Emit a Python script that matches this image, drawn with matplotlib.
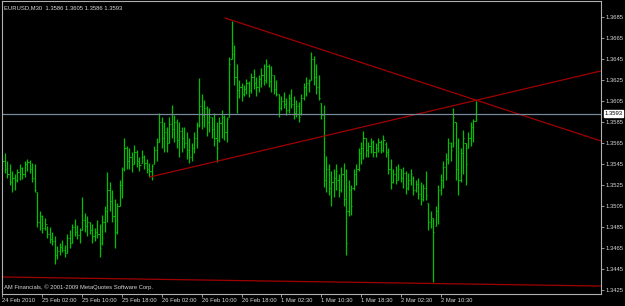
import matplotlib
matplotlib.use("Agg")
import matplotlib.pyplot as plt
import matplotlib.transforms as mtransforms

# EURUSD M30 bars (bar index 0 = first visible bar)
highs = [
    1.3553, 1.3555, 1.3548, 1.3545, 1.3538, 1.3535, 1.3540, 1.3545, 1.3542, 1.3548,
    1.3550, 1.3549, 1.3546, 1.3545, 1.3518, 1.3500, 1.3496, 1.3494, 1.3486, 1.3485,
    1.3480, 1.3476, 1.3467, 1.3470, 1.3473, 1.3468, 1.3478, 1.3482, 1.3488, 1.3493,
    1.3487, 1.3484, 1.3514, 1.3498, 1.3495, 1.3490, 1.3488, 1.3484, 1.3492, 1.3488,
    1.3496, 1.3505, 1.3537, 1.3528, 1.3520, 1.3512, 1.3508, 1.3530, 1.3542, 1.3570,
    1.3562, 1.3560, 1.3556, 1.3563, 1.3558, 1.3552, 1.3558, 1.3554, 1.3550, 1.3546,
    1.3545, 1.3562, 1.3570, 1.3594, 1.3590, 1.3585, 1.3580, 1.3590, 1.3601, 1.3592,
    1.3588, 1.3585, 1.3580, 1.3580, 1.3575, 1.3570, 1.3565, 1.3575, 1.3585, 1.3627,
    1.3612, 1.3606, 1.3600, 1.3598, 1.3590, 1.3594, 1.3585, 1.3590, 1.3596, 1.3592,
    1.3590, 1.3647, 1.3681, 1.3658, 1.3640, 1.3625, 1.3622, 1.3620, 1.3626, 1.3624,
    1.3632, 1.3635, 1.3628, 1.3630, 1.3636, 1.3640, 1.3645, 1.3640, 1.3638, 1.3630,
    1.3625, 1.3612, 1.3610, 1.3614, 1.3608, 1.3612, 1.3616, 1.3610, 1.3606, 1.3604,
    1.3612, 1.3622, 1.3628, 1.3626, 1.3652, 1.3648, 1.3640, 1.3630, 1.3603, 1.3601,
    1.3553, 1.3545, 1.3538, 1.3540, 1.3545, 1.3535, 1.3542, 1.3546, 1.3540, 1.3530,
    1.3525, 1.3540, 1.3545, 1.3560, 1.3566, 1.3576, 1.3570, 1.3566, 1.3570, 1.3568,
    1.3565, 1.3570, 1.3568, 1.3573, 1.3566, 1.3560, 1.3550, 1.3540, 1.3543, 1.3545,
    1.3540, 1.3542, 1.3538, 1.3536, 1.3540, 1.3534, 1.3530, 1.3532, 1.3528, 1.3526,
    1.3538, 1.3508, 1.3500, 1.3494, 1.3505, 1.3525, 1.3535, 1.3548, 1.3555, 1.3570,
    1.3566, 1.3598, 1.3585, 1.3570, 1.3560, 1.3577, 1.3565, 1.3575, 1.3585, 1.3588,
    1.3605,
]
lows = [
    1.3538, 1.3536, 1.3532, 1.3525, 1.3518, 1.3520, 1.3528, 1.3530, 1.3531, 1.3533,
    1.3538, 1.3536, 1.3528, 1.3518, 1.3485, 1.3482, 1.3479, 1.3482, 1.3475, 1.3470,
    1.3468, 1.3450, 1.3455, 1.3458, 1.3461, 1.3456, 1.3460, 1.3465, 1.3470, 1.3476,
    1.3474, 1.3470, 1.3482, 1.3480, 1.3476, 1.3478, 1.3470, 1.3472, 1.3475, 1.3456,
    1.3468, 1.3480, 1.3490, 1.3500, 1.3490, 1.3465, 1.3478, 1.3505, 1.3513, 1.3538,
    1.3540, 1.3540, 1.3537, 1.3545, 1.3542, 1.3538, 1.3546, 1.3540, 1.3536, 1.3533,
    1.3530, 1.3545, 1.3548, 1.3566, 1.3560, 1.3556, 1.3556, 1.3565, 1.3570, 1.3566,
    1.3560, 1.3552, 1.3556, 1.3560, 1.3550, 1.3546, 1.3548, 1.3555, 1.3560, 1.3580,
    1.3578, 1.3580, 1.3572, 1.3575, 1.3570, 1.3562, 1.3547, 1.3566, 1.3570, 1.3568,
    1.3566, 1.3590, 1.3645, 1.3620, 1.3594, 1.3608, 1.3605, 1.3610, 1.3612, 1.3609,
    1.3613, 1.3616, 1.3610, 1.3614, 1.3618, 1.3620, 1.3622, 1.3618, 1.3614, 1.3612,
    1.3610, 1.3590, 1.3596, 1.3598, 1.3592, 1.3594, 1.3598, 1.3588, 1.3590, 1.3585,
    1.3592, 1.3606, 1.3610, 1.3614, 1.3625, 1.3620, 1.3612, 1.3606, 1.3588, 1.3523,
    1.3518, 1.3515, 1.3505, 1.3514, 1.3520, 1.3514, 1.3518, 1.3505, 1.3458, 1.3495,
    1.3496, 1.3520, 1.3525, 1.3538, 1.3545, 1.3550, 1.3552, 1.3552, 1.3555, 1.3552,
    1.3552, 1.3556, 1.3555, 1.3556, 1.3552, 1.3535, 1.3521, 1.3527, 1.3526, 1.3530,
    1.3528, 1.3522, 1.3516, 1.3520, 1.3525, 1.3515, 1.3518, 1.3512, 1.3506, 1.3510,
    1.3511, 1.3482, 1.3484, 1.3433, 1.3486, 1.3488, 1.3515, 1.3522, 1.3530, 1.3545,
    1.3548, 1.3561, 1.3530, 1.3515, 1.3528, 1.3535, 1.3525, 1.3560, 1.3562, 1.3566,
    1.3586,
]
opens = [
    1.3545, 1.3548, 1.3540, 1.3535, 1.3528, 1.3532, 1.3530, 1.3537, 1.3541, 1.3535,
    1.3545, 1.3547, 1.3540, 1.3532, 1.3518, 1.3490, 1.3495, 1.3484, 1.3488, 1.3478,
    1.3474, 1.3472, 1.3458, 1.3462, 1.3466, 1.3463, 1.3460, 1.3475, 1.3470, 1.3485,
    1.3480, 1.3477, 1.3482, 1.3492, 1.3486, 1.3490, 1.3482, 1.3476, 1.3480, 1.3478,
    1.3470, 1.3490, 1.3500, 1.3520, 1.3510, 1.3495, 1.3480, 1.3505, 1.3525, 1.3540,
    1.3560, 1.3548, 1.3552, 1.3545, 1.3556, 1.3548, 1.3546, 1.3552, 1.3546, 1.3540,
    1.3538, 1.3545, 1.3558, 1.3566, 1.3585, 1.3570, 1.3575, 1.3565, 1.3583, 1.3578,
    1.3585, 1.3568, 1.3576, 1.3570, 1.3565, 1.3558, 1.3552, 1.3560, 1.3570, 1.3582,
    1.3600, 1.3592, 1.3598, 1.3585, 1.3590, 1.3578, 1.3570, 1.3568, 1.3584, 1.3590,
    1.3575, 1.3590, 1.3645, 1.3650, 1.3628, 1.3615, 1.3618, 1.3612, 1.3616, 1.3622,
    1.3615, 1.3628, 1.3622, 1.3618, 1.3626, 1.3630, 1.3625, 1.3638, 1.3624, 1.3630,
    1.3616, 1.3612, 1.3598, 1.3605, 1.3602, 1.3596, 1.3608, 1.3602, 1.3594, 1.3600,
    1.3594, 1.3608, 1.3618, 1.3622, 1.3625, 1.3645, 1.3628, 1.3618, 1.3603, 1.3592,
    1.3530, 1.3540, 1.3522, 1.3528, 1.3532, 1.3530, 1.3520, 1.3535, 1.3512, 1.3500,
    1.3520, 1.3522, 1.3535, 1.3540, 1.3555, 1.3560, 1.3570, 1.3558, 1.3562, 1.3566,
    1.3556, 1.3560, 1.3566, 1.3558, 1.3564, 1.3556, 1.3540, 1.3528, 1.3535, 1.3530,
    1.3540, 1.3532, 1.3536, 1.3522, 1.3530, 1.3532, 1.3520, 1.3526, 1.3516, 1.3512,
    1.3522, 1.3508, 1.3490, 1.3494, 1.3486, 1.3500, 1.3520, 1.3530, 1.3542, 1.3550,
    1.3565, 1.3562, 1.3585, 1.3540, 1.3530, 1.3555, 1.3565, 1.3560, 1.3570, 1.3580,
    1.3586,
]
closes = [
    1.3548, 1.3540, 1.3535, 1.3528, 1.3532, 1.3530, 1.3537, 1.3541, 1.3535, 1.3545,
    1.3547, 1.3540, 1.3532, 1.3520, 1.3490, 1.3495, 1.3484, 1.3488, 1.3478, 1.3474,
    1.3472, 1.3458, 1.3462, 1.3466, 1.3463, 1.3460, 1.3475, 1.3470, 1.3485, 1.3480,
    1.3477, 1.3482, 1.3492, 1.3486, 1.3490, 1.3482, 1.3476, 1.3480, 1.3478, 1.3465,
    1.3490, 1.3500, 1.3520, 1.3510, 1.3495, 1.3480, 1.3505, 1.3525, 1.3540, 1.3560,
    1.3548, 1.3552, 1.3545, 1.3556, 1.3548, 1.3544, 1.3552, 1.3546, 1.3540, 1.3538,
    1.3543, 1.3558, 1.3566, 1.3585, 1.3570, 1.3575, 1.3565, 1.3583, 1.3578, 1.3585,
    1.3568, 1.3576, 1.3570, 1.3565, 1.3558, 1.3552, 1.3560, 1.3570, 1.3582, 1.3600,
    1.3592, 1.3598, 1.3585, 1.3590, 1.3578, 1.3570, 1.3560, 1.3584, 1.3590, 1.3575,
    1.3588, 1.3640, 1.3660, 1.3628, 1.3615, 1.3618, 1.3612, 1.3616, 1.3622, 1.3615,
    1.3628, 1.3622, 1.3618, 1.3626, 1.3630, 1.3625, 1.3638, 1.3624, 1.3630, 1.3616,
    1.3612, 1.3598, 1.3605, 1.3602, 1.3596, 1.3608, 1.3602, 1.3594, 1.3600, 1.3590,
    1.3608, 1.3618, 1.3622, 1.3624, 1.3645, 1.3628, 1.3618, 1.3608, 1.3592, 1.3530,
    1.3540, 1.3522, 1.3528, 1.3532, 1.3538, 1.3520, 1.3535, 1.3512, 1.3470, 1.3520,
    1.3505, 1.3535, 1.3540, 1.3555, 1.3560, 1.3570, 1.3558, 1.3562, 1.3566, 1.3556,
    1.3560, 1.3566, 1.3558, 1.3568, 1.3556, 1.3540, 1.3528, 1.3535, 1.3530, 1.3540,
    1.3532, 1.3536, 1.3522, 1.3530, 1.3535, 1.3520, 1.3526, 1.3516, 1.3512, 1.3522,
    1.3515, 1.3490, 1.3494, 1.3480, 1.3500, 1.3520, 1.3530, 1.3542, 1.3550, 1.3565,
    1.3558, 1.3590, 1.3540, 1.3530, 1.3555, 1.3570, 1.3545, 1.3570, 1.3580, 1.3586,
    1.3593,
]

time_labels = [
    "24 Feb 2010", "25 Feb 02:00", "25 Feb 10:00", "25 Feb 18:00",
    "26 Feb 02:00", "26 Feb 10:00", "26 Feb 18:00", "1 Mar 02:30",
    "1 Mar 10:30", "1 Mar 18:30", "2 Mar 02:30", "2 Mar 10:30",
]
label_bars = [0, 16, 32, 48, 64, 80, 96, 112, 128, 144, 160, 176]

price_ticks = [1.3425, 1.3445, 1.3465, 1.3485, 1.3505, 1.3525, 1.3545,
               1.3565, 1.3585, 1.3605, 1.3625, 1.3645, 1.3665, 1.3685]
last_price = 1.3593

# trend lines drawn on the chart: (bar, price) start and end
trend_x = [[89.4, 240.4], [59.2, 240.4], [-0.2, 240.4]]
trend_y = [[1.3684, 1.35669], [1.35326, 1.36336], [1.34374, 1.34288]]

fg = "#d8d8d8"
bar_color = "#00c000"
line_red = "#a00000"
font = "Liberation Sans"

fig = plt.figure(figsize=(6.25, 3.06), dpi=100, facecolor="black")
ax = fig.add_axes([2 / 625, 12 / 306, 599 / 625, 293 / 306])
ax.set_facecolor("black")

x = list(range(len(highs)))
ax.vlines(x, lows, highs, color=bar_color, linewidth=0.9)
ax.hlines(opens, [i - 0.45 for i in x], x, color=bar_color, linewidth=0.7)
ax.hlines(closes, x, [i + 0.45 for i in x], color=bar_color, linewidth=0.7)

for tx, ty in zip(trend_x, trend_y):
    ax.plot(tx, ty, color=line_red, linewidth=0.9)

ax.axhline(last_price, color="#778899", linewidth=0.9)

ax.set_xlim(-0.2, 240.4)
ax.set_ylim(1.34212, 1.37002)

for s in ax.spines.values():
    s.set_color("#b0b0b0")
    s.set_linewidth(0.8)

ax.yaxis.tick_right()
ax.set_yticks(price_ticks)
ax.set_yticklabels([f"{p:.4f}" for p in price_ticks], fontsize=4.2,
                   color=fg, family=font)
ax.tick_params(axis="y", length=2, width=0.6, color="#b0b0b0", pad=1)

ax.set_xticks(label_bars)
ax.set_xticklabels(time_labels, fontsize=4.2, color=fg, family=font, ha="left")
ax.tick_params(axis="x", length=2, width=0.6, color="#b0b0b0", pad=1)

tr = mtransforms.blended_transform_factory(ax.transAxes, ax.transData)
ax.text(1.006, last_price, "1.3593", transform=tr, fontsize=4.2, family=font,
        color="black", va="center", ha="left",
        bbox=dict(boxstyle="square,pad=0.15", fc="white", ec="white"))

ax.text(0.004, 0.985, "EURUSD,M30  1.3586 1.3605 1.3586 1.3593",
        transform=ax.transAxes, fontsize=4.2, family=font, color=fg,
        va="top", ha="left")
ax.text(0.004, 0.012, "AM Financials, \u00a9 2001-2009 MetaQuotes Software Corp.",
        transform=ax.transAxes, fontsize=4.2, family=font, color=fg,
        va="bottom", ha="left")

fig.savefig("out.png", dpi=100, facecolor="black")
